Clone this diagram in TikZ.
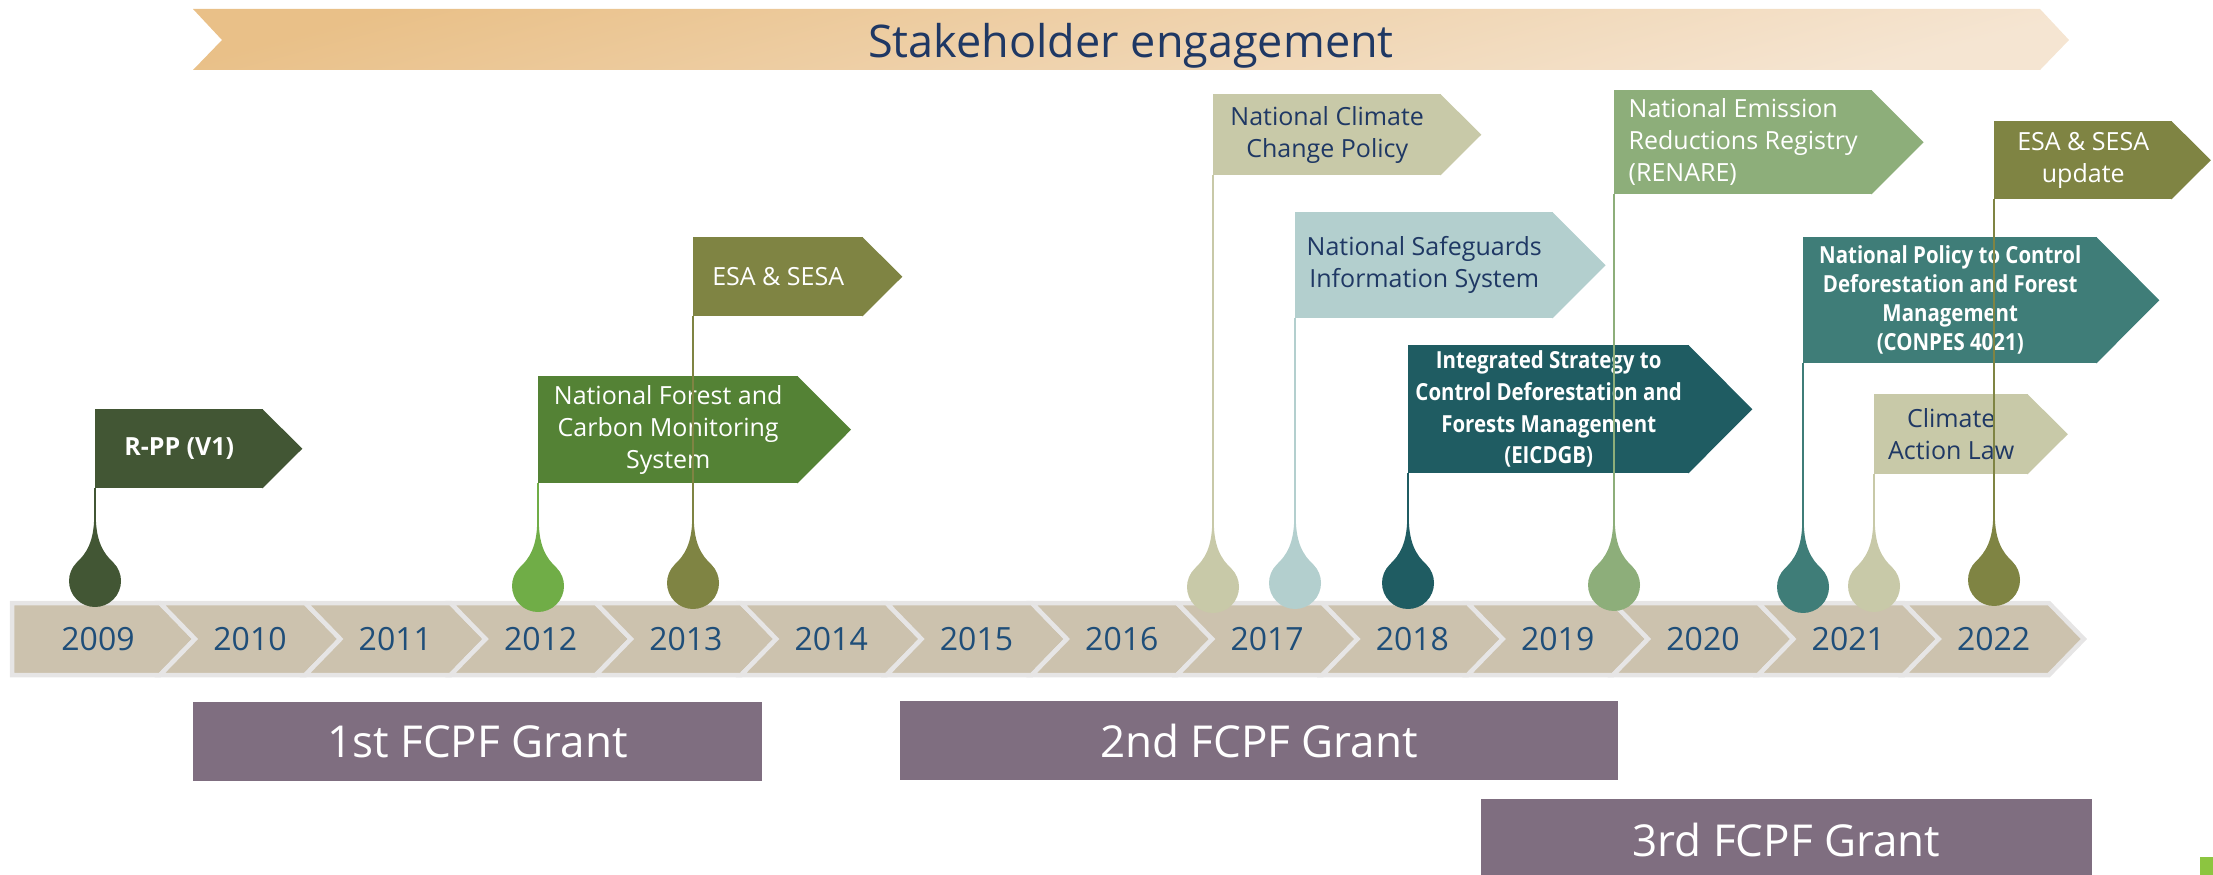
\documentclass[tikz,border=0pt]{standalone}
\usepackage{fontspec}
\setmainfont{Open Sans}
\newfontfamily\narrowsans{Open Sans}[FakeStretch=0.87]
\usepackage{tikz}
\usetikzlibrary{calc}
\usetikzlibrary{positioning}

\definecolor{navy}{HTML}{1F3864}
\definecolor{yearblue}{HTML}{1F4E79}
\definecolor{bannertop}{HTML}{E9C088}
\definecolor{bannerbot}{HTML}{F5E5D2}
\definecolor{bartan}{HTML}{CCC2AE}
\definecolor{rim}{HTML}{E6E5E5}
\definecolor{grantgrey}{HTML}{7F6E80}
\definecolor{rppgreen}{HTML}{425634}
\definecolor{forestgreen}{HTML}{548235}
\definecolor{leafgreen}{HTML}{70AD47}
\definecolor{olivedrab}{HTML}{7F8443}
\definecolor{khaki}{HTML}{C8C9A8}
\definecolor{paleteal}{HTML}{B3CFCE}
\definecolor{darkteal}{HTML}{1F5C62}
\definecolor{sage}{HTML}{8DAE7A}
\definecolor{midteal}{HTML}{3F7D78}
\definecolor{cornergreen}{HTML}{8CC540}

\newcommand{\flagtip}[2]{%
  \fill[#2] let \p1=(#1.north east), \p2=(#1.south east) in
    ($(\p1)+(-1pt,0pt)$) -- ($(#1.east)+({0.49*((\y1)-(\y2))},0pt)$) -- ($(\p2)+(-1pt,0pt)$) -- cycle;}

\tikzset{
  flag/.style={fill=#1, anchor=north west, inner sep=0pt, align=center},
  flagtext/.style={font=\fontsize{25}{32}\selectfont},
  flagbold/.style={font=\narrowsans\fontsize{23.5}{31.7}\selectfont\bfseries},
  chevron/.style={fill=bartan, draw=rim, line width=4.5pt, line join=miter},
  year/.style={text=yearblue, font=\fontsize{32}{38}\selectfont},
  grant/.style={fill=grantgrey, text=white, inner sep=0pt, font=\fontsize{44}{52}\selectfont},
  pole/.style={draw=#1, line width=1.5pt},
  droplet/.pic={\fill (-0.8,-64) -- (0.8,-64) .. controls (1.2,-40) and (8,-28) .. (18.4,-18.4)
      arc[start angle=-45, end angle=225, radius=26] .. controls (-8,-28) and (-1.2,-40) .. (-0.8,-64) -- cycle;}
}

\begin{document}
\begin{tikzpicture}[x=1pt, y=-1pt]
        \useasboundingbox (0,0) rectangle (2213,875);
        \clip (0,0) rectangle (2213,875);

        % stakeholder banner
        \shade[top color=bannertop, bottom color=bannerbot, shading angle=15]
            (193,9) -- (2040,9) -- (2069,40) -- (2040,70) -- (193,70) -- (222,40) -- cycle;
        \node[font=\fontsize{45}{54}\selectfont, text=navy, anchor=base] (stake) at (1131,58) {Stakeholder engagement};

        % years
        \foreach \k in {0,...,13} {
            \pgfmathsetmacro{\xl}{ifthenelse(\k==0,12,160+145.3*(\k-1))}
            \pgfmathsetmacro{\nd}{ifthenelse(\k==0,0,35)}
            \pgfmathsetmacro{\xr}{160+145.3*\k}
            \pgfmathsetmacro{\xt}{ifthenelse(\k==0,98,250+145.3*(\k-1))}
            \pgfmathtruncatemacro{\yr}{2009+\k}
            \draw[chevron] (\xl,603) -- (\xr,603) -- (\xr+35,639) -- (\xr,675) -- (\xl,675) -- (\xl+\nd,639) -- cycle;
            \node[year] (y\yr) at (\xt,639) {\yr};
        }

        % grants
        \node[grant, minimum width=569pt, minimum height=79pt] (grant1) at (477.5,741.5) {1st FCPF Grant};
        \node[grant, minimum width=718pt, minimum height=79pt] (grant2) at (1259,740.5) {2nd FCPF Grant};
        \node[grant, minimum width=611pt, minimum height=81pt] (grant3) at (1786.5,839.5) {3rd FCPF Grant};
        \fill[cornergreen] (2200,857) rectangle (2213,875);

        % milestones
        \node[flag=rppgreen, minimum width=168pt, minimum height=79pt, text=white,
              font=\fontsize{25}{32}\selectfont\bfseries] (rpp) at (95,409) {R-PP (V1)};
        \node[flag=forestgreen, minimum width=260pt, minimum height=107pt, flagtext, text=white] (nfcms) at (538,376)
            {National Forest and\\Carbon Monitoring\\System};
        \node[flag=olivedrab, minimum width=170pt, minimum height=79pt, flagtext, text=white] (esa) at (693,237) {ESA \& SESA};
        \node[flag=khaki, minimum width=228pt, minimum height=81pt, flagtext, text=navy] (nccp) at (1213,94)
            {National Climate\\Change Policy};
        \node[flag=paleteal, minimum width=258pt, minimum height=106pt, flagtext, text=navy] (sis) at (1295,212)
            {National Safeguards\\Information System};
        \node[flag=darkteal, minimum width=281pt, minimum height=128pt, flagbold, text=white] (eicdgb) at (1408,345)
            {Integrated Strategy to\\Control Deforestation and\\Forests Management\\(EICDGB)};
        \node[flag=sage, minimum width=258pt, minimum height=104pt, flagtext, text=white, align=left] (renare) at (1614,90)
            {National Emission\\Reductions Registry\\(RENARE)};
        \node[flag=olivedrab, minimum width=178pt, minimum height=78pt, flagtext, text=white] (esaup) at (1994,121)
            {ESA \& SESA\\update};
        \node[flag=midteal, minimum width=294pt, minimum height=126pt, flagbold, text=white,
              font=\narrowsans\fontsize{23.5}{29}\selectfont\bfseries] (conpes) at (1803,237)
            {National Policy to Control\\Deforestation and Forest\\Management\\(CONPES 4021)};
        \node[flag=khaki, minimum width=154pt, minimum height=80pt, flagtext, text=navy] (cal) at (1874,394)
            {Climate\\Action Law};

        \foreach \f/\c in {rpp/rppgreen, nfcms/forestgreen, esa/olivedrab, nccp/khaki, sis/paleteal,
                           eicdgb/darkteal, renare/sage, esaup/olivedrab, conpes/midteal, cal/khaki}
            \flagtip{\f}{\c};

        % poles and drops
        \foreach \f/\dx/\dy/\c in {rpp/95/581/rppgreen, nfcms/538/586/leafgreen, esa/693/583/olivedrab,
                                   nccp/1213/587/khaki, sis/1295/583/paleteal, eicdgb/1408/583/darkteal,
                                   renare/1614/585/sage, conpes/1803/587/midteal, cal/1874/586/khaki,
                                   esaup/1994/580/olivedrab} {
            \coordinate (\f-bulb) at (\dx,\dy);
            \coordinate (\f-top) at (\dx,\dy-63);
            \draw[pole=\c] (\f.south west) -- (\f-top);
            \pic[fill=\c] at (\f-bulb) {droplet};
        }
\end{tikzpicture}
\end{document}
